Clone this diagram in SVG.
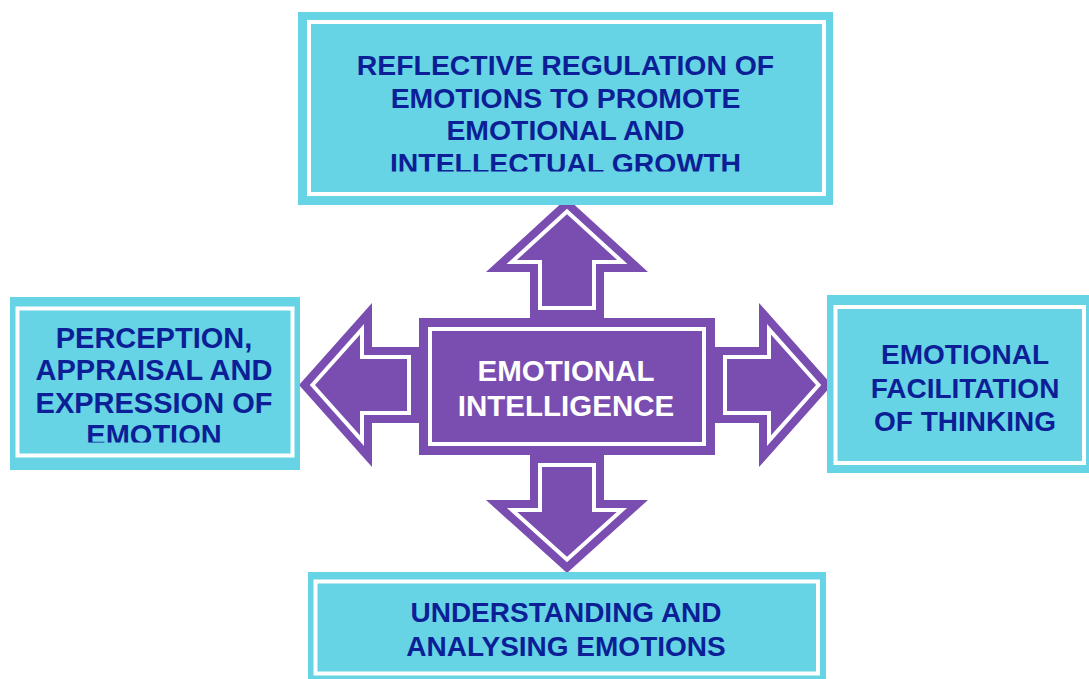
<svg xmlns="http://www.w3.org/2000/svg" width="1089" height="679" viewBox="0 0 1089 679">
<style>
.box{fill:#66d4e4}
.frame{fill:none;stroke:#ffffff;stroke-width:4}
.purple{fill:#7a4db0}
.inner{fill:none;stroke:#ffffff;stroke-width:4;stroke-linejoin:miter}
.lbl{font-family:"Liberation Sans",Arial,sans-serif;font-weight:bold;fill:#0c1f96;text-anchor:middle;font-size:28px}
.ctr{font-family:"Liberation Sans",Arial,sans-serif;font-weight:bold;fill:#ffffff;text-anchor:middle;font-size:29.5px}
</style>
<defs>
<clipPath id="clipTop"><rect x="298" y="12" width="535" height="159.5"/></clipPath>
<clipPath id="clipLeft"><rect x="10" y="297" width="290" height="145.5"/></clipPath>
</defs>
<rect width="1089" height="679" fill="#ffffff"/>

<g id="connectors">
  <path class="purple" d="M567,198 L648,272 L604,272 L604,318 L530,318 L530,272 L486,272 Z"/>
  <path class="purple" d="M567,573 L648,500 L604,500 L604,455 L530,455 L530,500 L486,500 Z"/>
  <path class="purple" d="M299,385 L372,303 L372,347 L419,347 L419,423 L372,423 L372,467 Z"/>
  <path class="purple" d="M832,385 L759,303 L759,347 L715,347 L715,423 L759,423 L759,467 Z"/>
  <path class="inner" d="M567,211.5 L622.3,262 L594,262 L594,308 L540,308 L540,262 L511.7,262 Z"/>
  <path class="inner" d="M567,559.5 L621.9,510 L594,510 L594,465 L540,465 L540,510 L512.1,510 Z"/>
  <path class="inner" d="M312.4,385 L362,329.3 L362,357 L409,357 L409,413 L362,413 L362,440.7 Z"/>
  <path class="inner" d="M818.6,385 L769,329.3 L769,357 L725,357 L725,413 L769,413 L769,440.7 Z"/>
</g>

<g id="center">
  <rect class="purple" x="419" y="318" width="296" height="137"/>
  <rect class="inner" x="430" y="329" width="274" height="115"/>
  <text class="ctr" x="566" y="380.5">EMOTIONAL</text>
  <text class="ctr" x="566" y="416">INTELLIGENCE</text>
</g>

<g id="top">
  <rect class="box" x="298" y="12" width="535" height="193"/>
  <rect class="frame" x="309" y="22" width="515" height="172"/>
  <g clip-path="url(#clipTop)">
    <text class="lbl" style="font-size:28.4px" x="565.5" y="75">REFLECTIVE REGULATION OF</text>
    <text class="lbl" style="font-size:28.4px" x="565.5" y="107.5">EMOTIONS TO PROMOTE</text>
    <text class="lbl" style="font-size:28.4px" x="565.5" y="140">EMOTIONAL AND</text>
    <text class="lbl" style="font-size:28.4px" x="565.5" y="172.5">INTELLECTUAL GROWTH</text>
  </g>
</g>

<g id="left">
  <rect class="box" x="10" y="297" width="290" height="173"/>
  <rect class="frame" x="17.5" y="308.5" width="275" height="147"/>
  <g clip-path="url(#clipLeft)">
    <text class="lbl" style="font-size:29px" x="154" y="347.5">PERCEPTION,</text>
    <text class="lbl" style="font-size:29px" x="154" y="380">APPRAISAL AND</text>
    <text class="lbl" style="font-size:29px" x="154" y="412.5">EXPRESSION OF</text>
    <text class="lbl" style="font-size:29px" x="154" y="444.5">EMOTION</text>
  </g>
</g>

<g id="right">
  <rect class="box" x="827" y="295" width="270" height="178"/>
  <rect class="frame" x="835.5" y="307" width="248.5" height="156"/>
  <text class="lbl" x="965" y="364">EMOTIONAL</text>
  <text class="lbl" x="965" y="398">FACILITATION</text>
  <text class="lbl" x="965" y="431">OF THINKING</text>
</g>

<g id="bottom">
  <rect class="box" x="308" y="572" width="518" height="120"/>
  <rect class="frame" x="315.5" y="581.5" width="502.5" height="92"/>
  <text class="lbl" x="566" y="622">UNDERSTANDING AND</text>
  <text class="lbl" x="566" y="656">ANALYSING EMOTIONS</text>
</g>
</svg>
